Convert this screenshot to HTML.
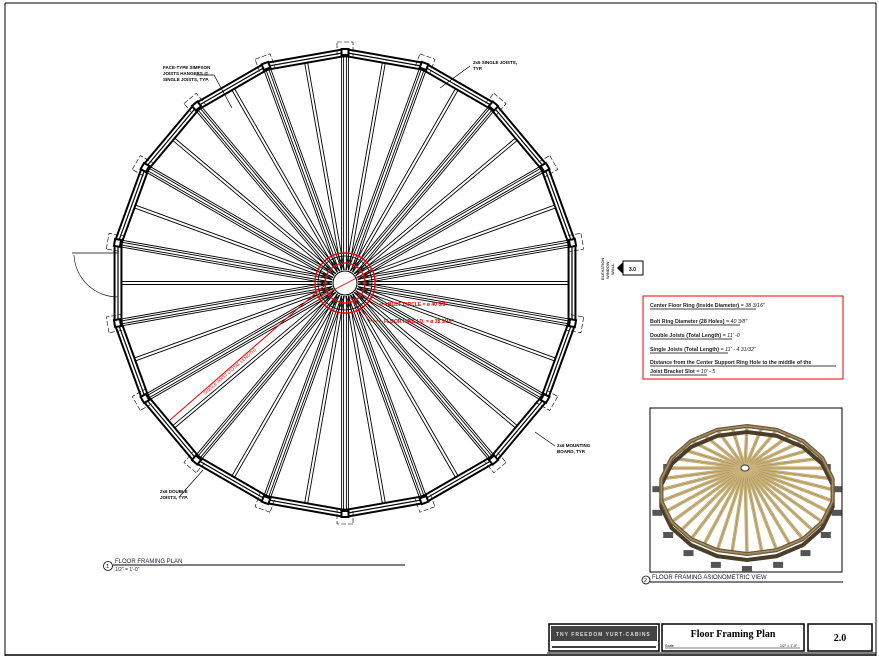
<!DOCTYPE html>
<html><head><meta charset="utf-8"><style>
html,body{margin:0;padding:0;background:#fff;}
body{width:879px;height:659px;overflow:hidden;position:relative;font-family:"Liberation Sans",sans-serif;}
svg{position:absolute;left:0;top:0;}
</style></head><body>
<svg id="s" width="879" height="659" viewBox="0 0 879 659" xmlns="http://www.w3.org/2000/svg">
<rect x="0" y="0" width="879" height="659" fill="#fff"/>
<line x1="5" y1="3" x2="5" y2="656" stroke="#000" stroke-width="1"/>
<line x1="5" y1="655" x2="876" y2="655" stroke="#000" stroke-width="1.5"/>
<line x1="876" y1="3" x2="876" y2="656" stroke="#000" stroke-width="1"/>
<line x1="5" y1="3" x2="876" y2="3" stroke="#000" stroke-width="1"/>
<g id="plan"></g>
<!-- door -->
<line x1="72" y1="253" x2="118" y2="253" stroke="#000" stroke-width="0.8"/>
<path d="M74 255 A44 44 0 0 0 118 297" fill="none" stroke="#000" stroke-width="0.6"/>
<!-- labels -->
<g font-size="4.5" font-weight="bold" fill="#000">
<text x="163" y="69">FACE-TYPE SIMPSON</text>
<text x="163" y="75">JOISTS HANGERS @</text>
<text x="163" y="81">SINGLE JOISTS, TYP.</text>
<text x="473" y="64">2x6 SINGLE JOISTS,</text>
<text x="473" y="70">TYP.</text>
<text x="557" y="447">2x6 MOUNTING</text>
<text x="557" y="453">BOARD, TYP.</text>
<text x="160" y="493">2x6 DOUBLE</text>
<text x="160" y="499">JOISTS, TYP.</text>
</g>
<g stroke="#000" stroke-width="0.7" fill="none">
<path d="M196 75 H214 L232 108"/>
<path d="M470 66 L440 88"/>
<path d="M555 446 L535 432"/>
<path d="M180 496 L203 470"/>
</g>
<!-- elevation tag -->
<g font-size="4" font-weight="bold" fill="#335">
<text transform="translate(604,280) rotate(-90)">ELEVATION</text>
<text transform="translate(609,279) rotate(-90)">WINDOW</text>
<text transform="translate(614,275) rotate(-90)">WALL</text>
</g>
<path d="M617 268 L623 262 L623 274 Z" fill="#000"/>
<rect x="623" y="261" width="20" height="14" fill="#fff" stroke="#000" stroke-width="1"/>
<text x="629" y="271" font-size="5" font-weight="bold">3.0</text>
<!-- red box -->
<rect x="643" y="296" width="200" height="83" fill="none" stroke="#e00" stroke-width="1"/>
<g font-size="5.3" font-weight="bold" fill="#222">
<text x="650" y="307">Center Floor Ring (Inside Diameter) <tspan font-style="italic" font-weight="normal">= 38 3/16"</tspan></text>
<text x="650" y="323">Bolt Ring Diameter (28 Holes) <tspan font-style="italic" font-weight="normal">= 40 3/8"</tspan></text>
<text x="650" y="337">Double Joists (Total Length) <tspan font-style="italic" font-weight="normal">= 11' -0</tspan></text>
<text x="650" y="351">Single Joists (Total Length) <tspan font-style="italic" font-weight="normal">= 11' - 4 31/32"</tspan></text>
<text x="650" y="364">Distance from the Center Support Ring Hole to the middle of the</text>
<text x="650" y="373">Joist Bracket Slot <tspan font-style="italic" font-weight="normal">= 10' - 5</tspan></text>
</g>
<g stroke="#000" stroke-width="0.8">
<line x1="650" y1="309" x2="756" y2="309"/><line x1="650" y1="325" x2="740" y2="325"/>
<line x1="650" y1="339" x2="732" y2="339"/><line x1="650" y1="353" x2="728" y2="353"/>
<line x1="650" y1="366" x2="836" y2="366"/><line x1="650" y1="375" x2="707" y2="375"/>
</g>
<!-- iso -->
<rect x="650" y="408" width="192" height="164" fill="#fff" stroke="#000" stroke-width="1"/>
<g id="iso"></g>
<circle cx="646" cy="580" r="4" fill="#fff" stroke="#000" stroke-width="0.8"/>
<text x="644" y="582" font-size="5">2</text>
<text x="652" y="579" font-size="6" fill="#223">FLOOR FRAMING ASIONOMETRIC VIEW</text>
<line x1="650" y1="582" x2="843" y2="582" stroke="#000" stroke-width="1"/>
<!-- plan label -->
<circle cx="108" cy="566" r="4.5" fill="#fff" stroke="#000" stroke-width="0.8"/>
<text x="106" y="568" font-size="5.5">1</text>
<text x="115" y="563" font-size="6" fill="#223">FLOOR FRAMING PLAN</text>
<line x1="113" y1="565" x2="405" y2="565" stroke="#000" stroke-width="1"/>
<text x="115" y="571" font-size="5" fill="#223">1/2" = 1'-0"</text>
<!-- title block -->
<rect x="549" y="624" width="110" height="27" fill="#fff" stroke="#000" stroke-width="1.5"/>
<rect x="551" y="626" width="106" height="15" fill="#444"/>
<text x="556" y="636" font-size="5" fill="#ddd" font-weight="bold" letter-spacing="1">TNY  FREEDOM YURT-CABINS</text>
<line x1="552" y1="647" x2="656" y2="647" stroke="#000" stroke-width="1.5"/>
<rect x="662" y="624" width="142" height="27" fill="#fff" stroke="#000" stroke-width="1.5"/>
<text x="733" y="637" font-size="10" font-weight="bold" text-anchor="middle" font-family="Liberation Serif,serif">Floor Framing Plan</text>
<line x1="665" y1="648" x2="800" y2="648" stroke="#000" stroke-width="0.6"/>
<text x="665" y="647" font-size="3.5">Scale</text>
<text x="780" y="647" font-size="3.5">1/2" = 1'-0"</text>
<rect x="808" y="624" width="64" height="27" fill="#fff" stroke="#000" stroke-width="1.5"/>
<text x="840" y="641" font-size="10" font-weight="bold" text-anchor="middle" font-family="Liberation Serif,serif">2.0</text>
<line x1="547" y1="653" x2="876" y2="653" stroke="#000" stroke-width="1"/>
</svg>
<script>
var NS="http://www.w3.org/2000/svg";
function el(p,t,a){var e=document.createElementNS(NS,t);for(var k in a)e.setAttribute(k,a[k]);p.appendChild(e);return e;}
var g=document.getElementById('plan');var cx=345,cy=283;var N=18,ST=2*Math.PI/N;
function P(r,a){return [cx+r*Math.sin(a),cy-r*Math.cos(a)];}
// joists
for(var i=0;i<2*N;i++){var a=i*ST/2;var dbl=(i%2==0);
 var offs=dbl?[-3.4,-1.4,1.4,3.4]:[-1.5,1.5];var r1=dbl?228:224;
 offs.forEach(function(o){var px=Math.cos(a)*o,py=Math.sin(a)*o;var s=P(13,a),e=P(r1,a);
 el(g,'line',{x1:s[0]+px,y1:s[1]+py,x2:e[0]+px,y2:e[1]+py,stroke:'#000','stroke-width':0.9});});}
// polygon ring (vertices at brackets)
function poly(r,w){var pts=[];for(var i=0;i<N;i++){var p=P(r,i*ST);pts.push(p.join(','));}
 el(g,'polygon',{points:pts.join(' '),fill:'none',stroke:'#000','stroke-width':w});}
poly(234,2);poly(230.5,1.2);poly(227,2);
// brackets
for(var i=0;i<N;i++){var a=i*ST;var p=P(231,a);var deg=a*180/Math.PI;
 var gg=el(g,'g',{transform:'translate('+p[0]+','+p[1]+') rotate('+deg+')'});
 el(gg,'rect',{x:-8,y:-10,width:16,height:15,fill:'none',stroke:'#000','stroke-width':0.6,'stroke-dasharray':'5 2'});
 el(gg,'rect',{x:-4.5,y:-4,width:9,height:8,fill:'#000'});
 el(gg,'rect',{x:-2.5,y:-2,width:5,height:4,fill:'#fff'});}
// hub
el(g,'circle',{cx:cx,cy:cy,r:12,fill:'#fff',stroke:'#000','stroke-width':1});
el(g,'circle',{cx:cx,cy:cy,r:20,fill:'none',stroke:'#e00','stroke-width':1.2});
el(g,'circle',{cx:cx,cy:cy,r:30,fill:'none',stroke:'#e00','stroke-width':1.4});
el(g,'circle',{cx:cx,cy:cy,r:27,fill:'none',stroke:'#000','stroke-width':0.8});
el(g,'line',{x1:372,y1:270,x2:318,y2:298,stroke:'#e00','stroke-width':0.8});
el(g,'line',{x1:325,y1:285,x2:170,y2:420,stroke:'#e00','stroke-width':1});
el(g,'path',{d:'M355 290 L378 304 H387',fill:'none',stroke:'#e00','stroke-width':0.7});
el(g,'path',{d:'M348 295 L370 321 H382',fill:'none',stroke:'#e00','stroke-width':0.7});
var t=el(g,'text',{x:388,y:306,'font-size':5,fill:'#e00','font-weight':'bold'});t.textContent='BOLT CIRCLE = ø 40 3/8"';
t=el(g,'text',{x:384,y:323,'font-size':5,fill:'#e00','font-weight':'bold'});t.textContent='FLOOR RING I.D. = ø 38 3/16"';
t=el(g,'text',{'font-size':4.5,fill:'#e00',transform:'translate(205,395) rotate(-41)'});t.textContent='SINGLE JOIST (TOTAL LENGTH)';
// iso
var ig=document.getElementById('iso');var ix=747,iy=490,rx=87,ry=64,hx=745,hy=468;
for(var i=0;i<N;i++){var a=i*ST;var x=ix+(rx+4)*Math.sin(a),y=iy+10-(ry+4)*Math.cos(a);
 if(Math.cos(a)<0.6) el(ig,'rect',{x:x-5,y:y-2,width:10,height:6,fill:'#555'});}
for(var i=0;i<2*N;i++){var a=i*ST/2;var x=ix+rx*Math.sin(a),y=iy-ry*Math.cos(a);
 el(ig,'line',{x1:hx,y1:hy,x2:x,y2:y,stroke:'#c9b27a','stroke-width':3.5});
 el(ig,'line',{x1:hx,y1:hy,x2:x,y2:y,stroke:'#8a7650','stroke-width':0.4});}
var pts=[];for(var i=0;i<N;i++){var a=i*ST;pts.push((ix+rx*Math.sin(a))+','+(iy-ry*Math.cos(a)));}
var pts2=[];for(var i=0;i<N;i++){var a=i*ST;pts2.push((ix+rx*Math.sin(a))+','+(iy+6-ry*Math.cos(a)));}
el(ig,'polygon',{points:pts2.join(' '),fill:'none',stroke:'#4a3e2a','stroke-width':4});
el(ig,'polygon',{points:pts.join(' '),fill:'none',stroke:'#6b5a3e','stroke-width':4});
el(ig,'polygon',{points:pts.join(' '),fill:'none',stroke:'#a89060','stroke-width':1.5});
el(ig,'ellipse',{cx:hx,cy:hy,rx:4,ry:3,fill:'#fff',stroke:'#333','stroke-width':1});
</script>
</body></html>
